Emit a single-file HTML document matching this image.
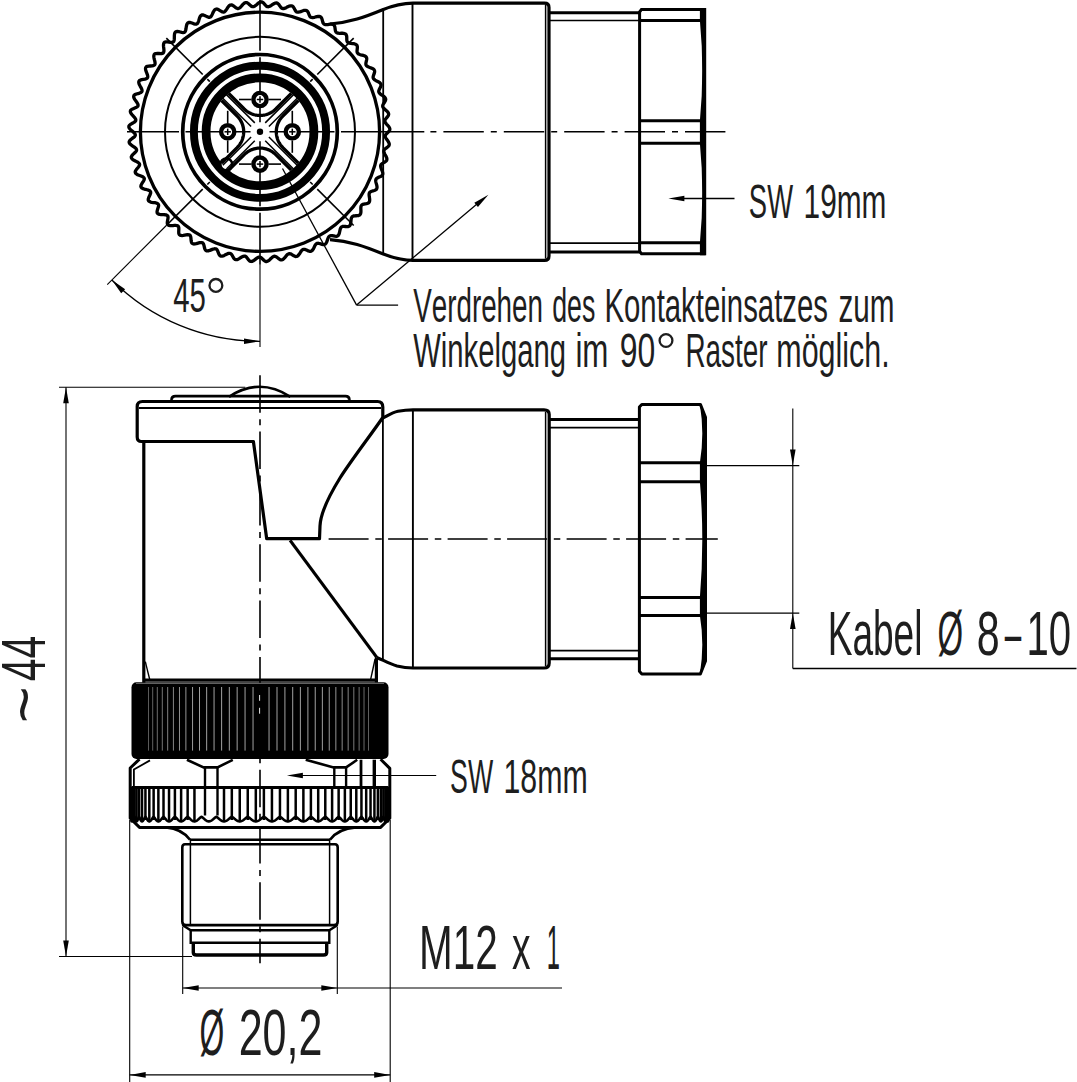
<!DOCTYPE html>
<html><head><meta charset="utf-8"><style>
html,body{margin:0;padding:0;background:#fff;}
svg{display:block;}
text{font-family:"Liberation Sans",sans-serif;fill:#1e1e1e;stroke:none;font-kerning:none;}
</style></head><body>
<svg width="1077" height="1082" viewBox="0 0 1077 1082">
<rect width="1077" height="1082" fill="#fff"/>
<g fill="none" stroke="#000" stroke-linecap="butt">
<path d="M388.52,131.8 L387.51,132.74 L386.52,133.68 L385.73,134.6 L385.29,135.51 L385.26,136.44 L385.51,137.38 L386,138.34 L386.65,139.32 L387.38,140.31 L388.1,141.31 L388.7,142.31 L389.12,143.31 L389.28,144.29 L389.12,145.24 L388.54,146.15 L387.62,147 L386.51,147.82 L385.41,148.63 L384.51,149.45 L383.97,150.31 L383.83,151.22 L383.97,152.19 L384.34,153.2 L384.87,154.24 L385.48,155.31 L386.07,156.39 L386.56,157.46 L386.85,158.5 L386.89,159.49 L386.62,160.42 L385.94,161.25 L384.92,161.99 L383.72,162.67 L382.54,163.34 L381.55,164.05 L380.91,164.84 L380.66,165.73 L380.69,166.71 L380.93,167.75 L381.34,168.85 L381.82,169.99 L382.28,171.13 L382.63,172.25 L382.8,173.32 L382.72,174.31 L382.35,175.19 L381.57,175.94 L380.48,176.55 L379.21,177.09 L377.95,177.61 L376.89,178.2 L376.16,178.91 L375.8,179.77 L375.71,180.74 L375.83,181.8 L376.11,182.94 L376.45,184.13 L376.77,185.32 L376.99,186.47 L377.03,187.55 L376.84,188.52 L376.36,189.36 L375.5,190.01 L374.34,190.49 L373.01,190.87 L371.7,191.24 L370.58,191.7 L369.77,192.32 L369.32,193.13 L369.11,194.08 L369.11,195.15 L369.24,196.32 L369.44,197.53 L369.62,198.75 L369.7,199.92 L369.61,201 L369.31,201.94 L368.73,202.72 L367.81,203.26 L366.59,203.6 L365.23,203.82 L363.89,204.04 L362.72,204.36 L361.84,204.87 L361.3,205.63 L360.98,206.55 L360.85,207.61 L360.84,208.79 L360.9,210.02 L360.93,211.25 L360.87,212.42 L360.66,213.48 L360.24,214.38 L359.58,215.08 L358.6,215.51 L357.35,215.7 L355.98,215.76 L354.62,215.82 L353.42,216 L352.48,216.41 L351.85,217.09 L351.43,217.97 L351.17,219.01 L351.03,220.17 L350.94,221.4 L350.83,222.63 L350.63,223.78 L350.29,224.81 L349.77,225.66 L349.03,226.28 L348.01,226.58 L346.75,226.62 L345.37,226.52 L344.02,226.42 L342.8,226.45 L341.83,226.75 L341.12,227.35 L340.6,228.18 L340.22,229.18 L339.94,230.32 L339.7,231.53 L339.45,232.73 L339.12,233.86 L338.66,234.84 L338.04,235.61 L337.24,236.14 L336.18,236.32 L334.92,236.22 L333.57,235.95 L332.24,235.69 L331.03,235.58 L330.02,235.76 L329.25,236.28 L328.63,237.03 L328.14,237.98 L327.73,239.08 L327.35,240.25 L326.95,241.42 L326.49,242.5 L325.92,243.42 L325.22,244.12 L324.35,244.54 L323.28,244.6 L322.05,244.35 L320.74,243.92 L319.44,243.5 L318.25,243.25 L317.24,243.31 L316.41,243.73 L315.71,244.41 L315.1,245.3 L314.56,246.34 L314.05,247.46 L313.52,248.57 L312.93,249.59 L312.26,250.43 L311.47,251.04 L310.57,251.36 L309.5,251.29 L308.3,250.9 L307.05,250.32 L305.81,249.75 L304.66,249.36 L303.65,249.3 L302.77,249.62 L302,250.21 L301.29,251.02 L300.63,251.99 L299.99,253.04 L299.33,254.08 L298.63,255.02 L297.86,255.78 L297.01,256.29 L296.07,256.51 L295.02,256.31 L293.88,255.77 L292.7,255.05 L291.54,254.34 L290.44,253.82 L289.44,253.64 L288.54,253.85 L287.7,254.34 L286.9,255.06 L286.13,255.95 L285.37,256.92 L284.59,257.87 L283.78,258.72 L282.93,259.38 L282.03,259.8 L281.07,259.9 L280.04,259.58 L278.98,258.91 L277.89,258.06 L276.83,257.21 L275.8,256.56 L274.82,256.26 L273.9,256.37 L273.01,256.76 L272.13,257.38 L271.27,258.17 L270.39,259.04 L269.51,259.9 L268.6,260.65 L267.68,261.2 L266.73,261.5 L265.77,261.49 L264.79,261.05 L263.81,260.26 L262.83,259.29 L261.88,258.32 L260.93,257.56 L260,257.14 L259.07,257.14 L258.14,257.42 L257.2,257.93 L256.24,258.62 L255.27,259.39 L254.29,260.16 L253.3,260.81 L252.32,261.28 L251.34,261.48 L250.38,261.36 L249.46,260.8 L248.58,259.88 L247.73,258.76 L246.9,257.65 L246.06,256.74 L245.18,256.2 L244.26,256.08 L243.3,256.26 L242.3,256.69 L241.27,257.29 L240.21,257.99 L239.13,258.67 L238.07,259.24 L237.03,259.61 L236.03,259.71 L235.1,259.47 L234.25,258.78 L233.49,257.72 L232.79,256.46 L232.11,255.21 L231.39,254.17 L230.59,253.5 L229.69,253.28 L228.71,253.36 L227.66,253.69 L226.55,254.21 L225.41,254.81 L224.25,255.4 L223.12,255.87 L222.03,256.13 L221.02,256.13 L220.12,255.78 L219.37,254.97 L218.76,253.79 L218.23,252.41 L217.71,251.04 L217.13,249.88 L216.43,249.11 L215.56,248.78 L214.57,248.76 L213.48,248.99 L212.31,249.4 L211.08,249.9 L209.85,250.38 L208.65,250.75 L207.54,250.9 L206.53,250.79 L205.68,250.33 L205.04,249.42 L204.58,248.14 L204.24,246.66 L203.91,245.19 L203.49,243.94 L202.89,243.08 L202.06,242.65 L201.08,242.52 L199.96,242.64 L198.73,242.94 L197.44,243.32 L196.14,243.69 L194.89,243.94 L193.75,243.98 L192.76,243.75 L191.96,243.2 L191.45,242.19 L191.17,240.83 L191.02,239.29 L190.89,237.75 L190.64,236.44 L190.16,235.49 L189.39,234.97 L188.43,234.74 L187.28,234.75 L186.01,234.92 L184.66,235.18 L183.31,235.41 L182.02,235.53 L180.87,235.45 L179.91,235.12 L179.18,234.47 L178.8,233.4 L178.71,231.99 L178.77,230.4 L178.85,228.83 L178.78,227.47 L178.42,226.46 L177.72,225.85 L176.78,225.52 L175.63,225.41 L174.33,225.45 L172.93,225.57 L171.54,225.66 L170.23,225.65 L169.09,225.45 L168.16,225.01 L167.52,224.28 L167.28,223.15 L167.38,221.72 L167.66,220.12 L167.95,218.55 L168.06,217.17 L167.83,216.12 L167.21,215.43 L166.31,214.99 L165.17,214.76 L163.85,214.67 L162.43,214.63 L161.01,214.58 L159.7,214.43 L158.57,214.1 L157.7,213.56 L157.15,212.76 L157.06,211.6 L157.34,210.17 L157.84,208.6 L158.34,207.05 L158.63,205.68 L158.54,204.6 L158.01,203.84 L157.15,203.31 L156.03,202.95 L154.72,202.71 L153.29,202.53 L151.87,202.32 L150.56,202.03 L149.47,201.58 L148.66,200.94 L148.22,200.07 L148.28,198.91 L148.75,197.51 L149.45,195.99 L150.16,194.5 L150.63,193.16 L150.68,192.07 L150.24,191.26 L149.44,190.63 L148.36,190.15 L147.06,189.77 L145.65,189.42 L144.25,189.06 L142.97,188.62 L141.93,188.05 L141.2,187.32 L140.86,186.4 L141.06,185.25 L141.72,183.9 L142.62,182.47 L143.51,181.06 L144.16,179.78 L144.34,178.71 L144,177.85 L143.28,177.13 L142.25,176.53 L141,176 L139.62,175.5 L138.25,174.98 L137.03,174.39 L136.05,173.71 L135.41,172.9 L135.18,171.95 L135.53,170.82 L136.35,169.56 L137.43,168.24 L138.51,166.94 L139.31,165.74 L139.63,164.69 L139.39,163.8 L138.76,163.01 L137.8,162.29 L136.6,161.62 L135.28,160.96 L133.98,160.28 L132.82,159.56 L131.92,158.76 L131.38,157.88 L131.27,156.91 L131.76,155.83 L132.73,154.67 L133.98,153.49 L135.21,152.32 L136.15,151.23 L136.6,150.22 L136.47,149.31 L135.93,148.45 L135.05,147.62 L133.94,146.82 L132.7,146.01 L131.48,145.18 L130.41,144.32 L129.61,143.42 L129.17,142.49 L129.18,141.51 L129.8,140.5 L130.91,139.46 L132.29,138.43 L133.65,137.42 L134.73,136.44 L135.29,135.5 L135.27,134.57 L134.83,133.65 L134.06,132.73 L133.05,131.8 L131.91,130.85 L130.79,129.89 L129.83,128.91 L129.15,127.92 L128.82,126.94 L128.95,125.97 L129.68,125.03 L130.91,124.14 L132.4,123.28 L133.88,122.44 L135.06,121.59 L135.73,120.72 L135.81,119.8 L135.49,118.84 L134.83,117.83 L133.94,116.78 L132.93,115.71 L131.93,114.62 L131.1,113.53 L130.54,112.47 L130.33,111.46 L130.57,110.51 L131.41,109.67 L132.73,108.93 L134.31,108.25 L135.87,107.59 L137.13,106.89 L137.9,106.1 L138.09,105.19 L137.89,104.2 L137.36,103.12 L136.6,101.98 L135.73,100.79 L134.88,99.6 L134.19,98.42 L133.76,97.31 L133.68,96.28 L134.03,95.37 L134.96,94.63 L136.35,94.04 L137.99,93.55 L139.6,93.07 L140.93,92.53 L141.78,91.83 L142.08,90.96 L141.99,89.95 L141.6,88.82 L141,87.6 L140.28,86.32 L139.6,85.03 L139.06,83.79 L138.77,82.64 L138.82,81.61 L139.28,80.74 L140.28,80.12 L141.72,79.7 L143.38,79.4 L145.02,79.1 L146.4,78.71 L147.31,78.12 L147.71,77.29 L147.75,76.27 L147.51,75.11 L147.06,73.83 L146.52,72.49 L146.01,71.14 L145.63,69.85 L145.5,68.67 L145.67,67.66 L146.23,66.86 L147.29,66.35 L148.75,66.09 L150.42,65.98 L152.06,65.87 L153.45,65.64 L154.42,65.15 L154.92,64.37 L155.09,63.37 L154.99,62.2 L154.72,60.89 L154.35,59.5 L154.02,58.11 L153.82,56.8 L153.83,55.62 L154.13,54.64 L154.78,53.91 L155.88,53.53 L157.34,53.43 L158.99,53.5 L160.61,53.57 L162.01,53.48 L163.02,53.11 L163.6,52.39 L163.89,51.43 L163.95,50.26 L163.85,48.93 L163.67,47.53 L163.52,46.13 L163.49,44.82 L163.66,43.66 L164.08,42.73 L164.8,42.08 L165.93,41.82 L167.38,41.88 L168.98,42.12 L170.56,42.36 L171.93,42.42 L172.97,42.15 L173.64,41.51 L174.05,40.6 L174.26,39.46 L174.33,38.15 L174.34,36.76 L174.37,35.37 L174.51,34.08 L174.83,32.97 L175.36,32.11 L176.16,31.54 L177.3,31.41 L178.71,31.61 L180.25,32.01 L181.76,32.4 L183.1,32.6 L184.15,32.45 L184.89,31.89 L185.41,31.04 L185.77,29.95 L186.01,28.68 L186.2,27.32 L186.42,25.98 L186.73,24.74 L187.18,23.69 L187.82,22.9 L188.67,22.44 L189.81,22.42 L191.17,22.77 L192.63,23.31 L194.06,23.84 L195.35,24.17 L196.41,24.13 L197.21,23.66 L197.83,22.88 L198.32,21.86 L198.73,20.66 L199.1,19.37 L199.49,18.09 L199.96,16.92 L200.54,15.95 L201.27,15.26 L202.17,14.9 L203.29,14.99 L204.58,15.46 L205.95,16.13 L207.29,16.8 L208.52,17.24 L209.57,17.31 L210.41,16.93 L211.13,16.25 L211.75,15.32 L212.31,14.2 L212.84,13 L213.39,11.8 L214.01,10.73 L214.71,9.87 L215.52,9.27 L216.45,9.02 L217.55,9.23 L218.76,9.81 L220.02,10.59 L221.26,11.36 L222.42,11.91 L223.44,12.08 L224.33,11.81 L225.13,11.23 L225.86,10.4 L226.55,9.39 L227.23,8.3 L227.93,7.22 L228.68,6.26 L229.48,5.51 L230.36,5.03 L231.31,4.88 L232.37,5.2 L233.49,5.88 L234.64,6.75 L235.78,7.62 L236.85,8.27 L237.85,8.53 L238.76,8.37 L239.62,7.9 L240.45,7.19 L241.27,6.31 L242.08,5.34 L242.91,4.39 L243.76,3.56 L244.65,2.93 L245.58,2.57 L246.54,2.54 L247.55,2.95 L248.58,3.72 L249.62,4.68 L250.63,5.62 L251.62,6.35 L252.58,6.71 L253.5,6.65 L254.42,6.31 L255.33,5.73 L256.24,4.98 L257.16,4.16 L258.1,3.35 L259.04,2.66 L260,2.17 L260.96,1.93 L261.92,2 L262.87,2.49 L263.81,3.34 L264.72,4.37 L265.62,5.39 L266.52,6.21 L267.43,6.68 L268.35,6.73 L269.3,6.51 L270.27,6.05 L271.27,5.43 L272.28,4.73 L273.3,4.04 L274.32,3.46 L275.33,3.08 L276.32,2.95 L277.26,3.13 L278.15,3.74 L278.98,4.69 L279.76,5.82 L280.53,6.94 L281.33,7.86 L282.17,8.43 L283.09,8.6 L284.05,8.49 L285.07,8.15 L286.13,7.65 L287.22,7.07 L288.32,6.51 L289.4,6.06 L290.45,5.8 L291.44,5.79 L292.36,6.08 L293.17,6.79 L293.88,7.83 L294.52,9.04 L295.16,10.25 L295.84,11.26 L296.61,11.92 L297.49,12.2 L298.47,12.2 L299.52,11.98 L300.63,11.61 L301.78,11.17 L302.94,10.74 L304.07,10.42 L305.14,10.28 L306.12,10.39 L307,10.79 L307.72,11.59 L308.3,12.7 L308.8,13.99 L309.29,15.26 L309.84,16.34 L310.53,17.09 L311.38,17.47 L312.34,17.59 L313.41,17.5 L314.56,17.26 L315.76,16.95 L316.95,16.67 L318.11,16.48 L319.19,16.48 L320.16,16.7 L320.98,17.2 L321.6,18.07 L322.05,19.25 L322.39,20.59 L322.72,21.91 L323.15,23.05 L323.74,23.87 L324.54,24.35 L325.49,24.58 L326.56,24.62 L327.73,24.52 L328.95,24.36 L330.17,24.21 L331.34,24.17 L332.42,24.29 L333.35,24.62 L334.11,25.21 L334.62,26.16 L334.92,27.38 L335.11,28.75 L335.28,30.1 L335.57,31.28 L336.06,32.17 L336.79,32.74 L337.71,33.08 L338.77,33.24 L339.94,33.28 L341.17,33.26 L342.4,33.27 L343.57,33.36 L344.62,33.61 L345.51,34.05 L346.2,34.73 L346.59,35.73 L346.75,36.98 L346.77,38.35 L346.78,39.71 L346.93,40.92 L347.31,41.86 L347.97,42.51 L348.84,42.96 L349.87,43.25 L351.03,43.43 L352.26,43.56 L353.48,43.7 L354.63,43.93 L355.64,44.3 L356.47,44.85 L357.07,45.6 L357.35,46.64 L357.35,47.9 L357.21,49.27 L357.06,50.63 L357.06,51.84 L357.33,52.82 L357.92,53.55 L358.72,54.09 L359.71,54.5 L360.84,54.81 L362.05,55.09 L363.24,55.38 L364.36,55.74 L365.32,56.23 L366.08,56.87 L366.59,57.69 L366.74,58.75 L366.59,60 L366.29,61.35 L365.98,62.68 L365.84,63.88 L365.99,64.89 L366.48,65.68 L367.22,66.31 L368.16,66.84 L369.24,67.28 L370.4,67.69 L371.56,68.13 L372.62,68.62 L373.52,69.22 L374.2,69.94 L374.6,70.82 L374.63,71.89 L374.34,73.11 L373.88,74.41 L373.42,75.7 L373.13,76.88 L373.16,77.89 L373.56,78.73 L374.21,79.46 L375.08,80.09 L376.11,80.66 L377.21,81.2 L378.31,81.77 L379.3,82.38 L380.13,83.08 L380.71,83.88 L381.01,84.8 L380.91,85.87 L380.48,87.05 L379.86,88.28 L379.26,89.5 L378.83,90.64 L378.74,91.66 L379.04,92.54 L379.6,93.33 L380.39,94.06 L381.34,94.75 L382.37,95.42 L383.39,96.11 L384.31,96.84 L385.04,97.63 L385.53,98.5 L385.72,99.44 L385.49,100.49 L384.92,101.61 L384.17,102.77 L383.42,103.9 L382.87,104.99 L382.66,105.98 L382.84,106.89 L383.31,107.75 L384.01,108.56 L384.87,109.36 L385.82,110.15 L386.75,110.95 L387.57,111.79 L388.21,112.66 L388.59,113.58 L388.67,114.54 L388.31,115.55 L387.62,116.6 L386.73,117.66 L385.85,118.7 L385.18,119.71 L384.85,120.67 L384.93,121.6 L385.29,122.5 L385.89,123.39 L386.65,124.28 L387.49,125.18 L388.32,126.09 L389.04,127.02 L389.57,127.96 L389.85,128.91 L389.8,129.88 L389.33,130.84 L388.52,131.8 Z" stroke-width="3.3" stroke-linejoin="round"/>
<circle cx="260" cy="131.8" r="119.6" stroke-width="3.3" />
<circle cx="260" cy="131.8" r="95" stroke-width="2.0" />
<circle cx="260" cy="131.8" r="77.3" stroke-width="3.7" />
<circle cx="260" cy="131.8" r="66.1" stroke-width="7.9" />
<circle cx="260" cy="131.8" r="53.9" stroke-width="8.8" />
<line x1="127" y1="131.8" x2="179" y2="131.8" stroke-width="1.6" />
<line x1="185.5" y1="131.8" x2="250.5" y2="131.8" stroke-width="1.6" />
<line x1="269.5" y1="131.8" x2="334.5" y2="131.8" stroke-width="1.6" />
<line x1="341" y1="131.8" x2="424.3" y2="131.8" stroke-width="1.6" />
<line x1="430.4" y1="131.8" x2="726" y2="131.8" stroke-width="1.6" stroke-dasharray="6 7 40.4 7"/>
<line x1="260" y1="0" x2="260" y2="50.8" stroke-width="1.6" />
<line x1="260" y1="57.3" x2="260" y2="122.3" stroke-width="1.6" />
<line x1="260" y1="141.3" x2="260" y2="206.3" stroke-width="1.6" />
<line x1="260" y1="212.8" x2="260" y2="264.8" stroke-width="1.6" />
<line x1="260" y1="264.8" x2="260" y2="347" stroke-width="1.1" />
<line x1="317.28" y1="189.08" x2="353.69" y2="225.49" stroke-width="1.6" />
<line x1="310.2" y1="182" x2="312.68" y2="184.48" stroke-width="1.6" />
<line x1="202.72" y1="189.08" x2="166.31" y2="225.49" stroke-width="1.6" />
<line x1="166.31" y1="225.49" x2="107.26" y2="284.54" stroke-width="1.1" />
<line x1="209.8" y1="182" x2="207.32" y2="184.48" stroke-width="1.6" />
<line x1="202.72" y1="74.52" x2="166.31" y2="38.11" stroke-width="1.6" />
<line x1="209.8" y1="81.6" x2="207.32" y2="79.12" stroke-width="1.6" />
<line x1="317.28" y1="74.52" x2="353.69" y2="38.11" stroke-width="1.6" />
<line x1="310.2" y1="81.6" x2="312.68" y2="79.12" stroke-width="1.6" />
<circle cx="226.3" cy="164.4" r="5.9" stroke-width="2.5" fill="#fff"/>
<circle cx="260" cy="131.8" r="3.2" fill="#000" stroke="none"/>
<line x1="268.91" y1="137.03" x2="297.19" y2="165.32" stroke-width="1.5" />
<line x1="265.23" y1="140.71" x2="293.52" y2="168.99" stroke-width="1.5" />
<line x1="254.77" y1="140.71" x2="226.48" y2="168.99" stroke-width="1.5" />
<line x1="251.09" y1="137.03" x2="222.81" y2="165.32" stroke-width="1.5" />
<line x1="251.09" y1="126.57" x2="222.81" y2="98.28" stroke-width="1.5" />
<line x1="254.77" y1="122.89" x2="226.48" y2="94.61" stroke-width="1.5" />
<line x1="265.23" y1="122.89" x2="293.52" y2="94.61" stroke-width="1.5" />
<line x1="268.91" y1="126.57" x2="297.19" y2="98.28" stroke-width="1.5" />
<path d="M298.39,163.12 L282.83,147.57 L282.03,146.72 L281.27,145.83 L280.56,144.91 L279.9,143.95 L279.29,142.95 L278.73,141.92 L278.23,140.87 L277.78,139.79 L277.39,138.69 L277.06,137.57 L276.79,136.44 L276.57,135.29 L276.42,134.13 L276.33,132.97 L276.3,131.8 L276.33,130.63 L276.42,129.47 L276.57,128.31 L276.79,127.16 L277.06,126.03 L277.39,124.91 L277.78,123.81 L278.23,122.73 L278.73,121.68 L279.29,120.65 L279.9,119.65 L280.56,118.69 L281.27,117.77 L282.03,116.88 L282.83,116.03 L298.39,100.48" stroke-width="3.3" stroke-linejoin="round"/>
<path d="M228.68,170.19 L244.23,154.63 L245.08,153.83 L245.97,153.07 L246.89,152.36 L247.85,151.7 L248.85,151.09 L249.88,150.53 L250.93,150.03 L252.01,149.58 L253.11,149.19 L254.23,148.86 L255.36,148.59 L256.51,148.37 L257.67,148.22 L258.83,148.13 L260,148.1 L261.17,148.13 L262.33,148.22 L263.49,148.37 L264.64,148.59 L265.77,148.86 L266.89,149.19 L267.99,149.58 L269.07,150.03 L270.12,150.53 L271.15,151.09 L272.15,151.7 L273.11,152.36 L274.03,153.07 L274.92,153.83 L275.77,154.63 L291.32,170.19" stroke-width="3.3" stroke-linejoin="round"/>
<path d="M221.61,100.48 L237.17,116.03 L237.97,116.88 L238.73,117.77 L239.44,118.69 L240.1,119.65 L240.71,120.65 L241.27,121.68 L241.77,122.73 L242.22,123.81 L242.61,124.91 L242.94,126.03 L243.21,127.16 L243.43,128.31 L243.58,129.47 L243.67,130.63 L243.7,131.8 L243.67,132.97 L243.58,134.13 L243.43,135.29 L243.21,136.44 L242.94,137.57 L242.61,138.69 L242.22,139.79 L241.77,140.87 L241.27,141.92 L240.71,142.95 L240.1,143.95 L239.44,144.91 L238.73,145.83 L237.97,146.72 L237.17,147.57 L221.61,163.12" stroke-width="3.3" stroke-linejoin="round"/>
<path d="M291.32,93.41 L275.77,108.97 L274.92,109.77 L274.03,110.53 L273.11,111.24 L272.15,111.9 L271.15,112.51 L270.12,113.07 L269.07,113.57 L267.99,114.02 L266.89,114.41 L265.77,114.74 L264.64,115.01 L263.49,115.23 L262.33,115.38 L261.17,115.47 L260,115.5 L258.83,115.47 L257.67,115.38 L256.51,115.23 L255.36,115.01 L254.23,114.74 L253.11,114.41 L252.01,114.02 L250.93,113.57 L249.88,113.07 L248.85,112.51 L247.85,111.9 L246.89,111.24 L245.97,110.53 L245.08,109.77 L244.23,108.97 L228.68,93.41" stroke-width="3.3" stroke-linejoin="round"/>
<circle cx="292.3" cy="131.8" r="6.6" stroke-width="4.4" fill="#fff"/>
<line x1="292.3" y1="128.6" x2="292.3" y2="135" stroke-width="1.5" />
<line x1="289.1" y1="131.8" x2="295.5" y2="131.8" stroke-width="1.5" />
<line x1="292.3" y1="123.2" x2="292.3" y2="110.8" stroke-width="1.6" />
<line x1="292.3" y1="140.4" x2="292.3" y2="152.8" stroke-width="1.6" />
<circle cx="260" cy="164.1" r="6.6" stroke-width="4.4" fill="#fff"/>
<line x1="263.2" y1="164.1" x2="256.8" y2="164.1" stroke-width="1.5" />
<line x1="260" y1="160.9" x2="260" y2="167.3" stroke-width="1.5" />
<line x1="268.6" y1="164.1" x2="281" y2="164.1" stroke-width="1.6" />
<line x1="251.4" y1="164.1" x2="239" y2="164.1" stroke-width="1.6" />
<circle cx="227.7" cy="131.8" r="6.6" stroke-width="4.4" fill="#fff"/>
<line x1="227.7" y1="135" x2="227.7" y2="128.6" stroke-width="1.5" />
<line x1="230.9" y1="131.8" x2="224.5" y2="131.8" stroke-width="1.5" />
<line x1="227.7" y1="140.4" x2="227.7" y2="152.8" stroke-width="1.6" />
<line x1="227.7" y1="123.2" x2="227.7" y2="110.8" stroke-width="1.6" />
<circle cx="260" cy="99.5" r="6.6" stroke-width="4.4" fill="#fff"/>
<line x1="256.8" y1="99.5" x2="263.2" y2="99.5" stroke-width="1.5" />
<line x1="260" y1="102.7" x2="260" y2="96.3" stroke-width="1.5" />
<line x1="251.4" y1="99.5" x2="239" y2="99.5" stroke-width="1.6" />
<line x1="268.6" y1="99.5" x2="281" y2="99.5" stroke-width="1.6" />
<path d="M330,24 C350,22.5 365,17 382,10 C392,6 402,3.2 413,3.2 L544.5,3.2 Q549,3.2 549,7.5 L549,256 Q549,260.4 544.5,260.4 L413,260.4 C402,260.4 392,257.6 382,253.6 C365,246.6 350,241.1 330,239.6" stroke-width="3.2" fill="none"/>
<line x1="383.2" y1="8.5" x2="383.2" y2="255.1" stroke-width="1.8" />
<line x1="412.5" y1="3" x2="412.5" y2="260.6" stroke-width="1.9" />
<line x1="545.6" y1="5" x2="545.6" y2="258.6" stroke-width="1.5" />
<line x1="549" y1="12.7" x2="640" y2="12.7" stroke-width="3.0" />
<line x1="549" y1="20.5" x2="640" y2="20.5" stroke-width="1.6" />
<line x1="549" y1="243.1" x2="640" y2="243.1" stroke-width="1.6" />
<line x1="549" y1="251.9" x2="640" y2="251.9" stroke-width="3.0" />
<path d="M639.6,12 L641.5,9.4 L704,9.4 L704,253.8 L641.5,253.8 L639.6,251.2 Z" stroke-width="3.0" />
<line x1="639.6" y1="20.5" x2="701" y2="20.5" stroke-width="3.0" />
<line x1="639.6" y1="120.7" x2="701" y2="120.7" stroke-width="3.0" />
<line x1="639.6" y1="143.3" x2="701" y2="143.3" stroke-width="3.0" />
<line x1="639.6" y1="242.7" x2="701" y2="242.7" stroke-width="3.0" />
<path d="M699.9,7.9 L706.2,7.9 L706.2,255.3 L699.9,255.3 L699.9,242.7 Q704.7,193 699.9,143.3 L699.9,120.7 Q704.7,70.6 699.9,20.5 Z" fill="#000" stroke="none"/>
<line x1="680" y1="198.5" x2="734.5" y2="198.5" stroke-width="1.3" />
<path d="M668.4,198.5 L684.4,195.7 L684.4,201.3 Z" fill="#000" stroke="none"/>
<text transform="translate(748.86,217.6) scale(0.5713,1)" font-size="47.97"  >SW</text>
<text transform="translate(803.53,217.6) scale(0.6224,1)" font-size="47.97"  >19mm</text>
<line x1="356.6" y1="305.1" x2="398.1" y2="305.1" stroke-width="1.3" />
<line x1="356.6" y1="305.1" x2="282.5" y2="168.5" stroke-width="1.3" />
<line x1="356.6" y1="305.1" x2="480" y2="201.6" stroke-width="1.3" />
<path d="M488.4,194.7 L477.93,207.12 L474.34,202.83 Z" fill="#000" stroke="none"/>
<text transform="translate(413.18,321.9) scale(0.5761,1)" font-size="48.26"  >Verdrehen</text>
<text transform="translate(552.18,321.9) scale(0.5538,1)" font-size="48.26"  >des</text>
<text transform="translate(604.39,321.9) scale(0.6086,1)" font-size="48.26"  >Kontakteinsatzes</text>
<text transform="translate(838.4,321.9) scale(0.6149,1)" font-size="48.26"  >zum</text>
<text transform="translate(413.17,366.8) scale(0.6101,1)" font-size="47.97"  >Winkelgang</text>
<text transform="translate(575.4,366.8) scale(0.6532,1)" font-size="47.97"  >im</text>
<text transform="translate(619.7,366.8) scale(0.6663,1)" font-size="47.97"  >90</text>
<circle cx="666" cy="340.5" r="6.4" stroke="#1e1e1e" stroke-width="2.3"/>
<text transform="translate(685.41,366.8) scale(0.5815,1)" font-size="47.97"  >Raster</text>
<text transform="translate(776.28,366.8) scale(0.6349,1)" font-size="47.97"  >möglich.</text>
<path d="M111.86,279.94 A209.5,209.5 0 0 0 260,341.3" stroke-width="1.3" />
<path d="M111.86,279.94 L125.15,289.27 L121.19,293.23 Z" fill="#000" stroke="none"/>
<path d="M260,341.3 L244,344.1 L244,338.5 Z" fill="#000" stroke="none"/>
<text transform="translate(173.13,311.6) scale(0.6168,1)" font-size="47.68"  >45</text>
<circle cx="215.9" cy="285.4" r="6.4" stroke="#1e1e1e" stroke-width="2.3"/>
<path d="M229,396.8 Q259.7,376.8 290.4,396.8" stroke-width="2.6" />
<path d="M172.5,401 Q171.6,401 171.6,399.5 Q171.6,396.2 175.5,396.2 L345.5,396.2 Q349.3,396.2 349.3,399.5 Q349.3,401 348.4,401" stroke-width="2.8" />
<path d="M143.8,441.5 L141.5,441.5 Q137.2,441.5 137.2,437 L137.2,406.5 Q137.2,401.5 142.5,401.5 L377.5,401.5 Q382.8,401.5 382.8,407 L382.8,417.5 C370,436 350,462 340,478 C327,499 320.5,514 320,526 L319.5,538.7 L266.7,538.7 L253.4,441.5 L143.8,441.5" stroke-width="3.2" stroke-linejoin="round"/>
<line x1="139" y1="408" x2="381" y2="408" stroke-width="1.9" />
<line x1="143.8" y1="441.5" x2="143.8" y2="682.8" stroke-width="3.2" />
<line x1="145.3" y1="661.6" x2="149.7" y2="679.4" stroke-width="1.4" />
<line x1="143.8" y1="680.2" x2="376.8" y2="680.2" stroke-width="3.2" />
<line x1="290.1" y1="540.4" x2="376.8" y2="657.4" stroke-width="3.2" />
<line x1="376.4" y1="657.4" x2="376.4" y2="682.5" stroke-width="3.2" />
<line x1="375.1" y1="659" x2="370.7" y2="679.1" stroke-width="1.4" />
<line x1="382.9" y1="417.5" x2="382.9" y2="659" stroke-width="1.8" />
<path d="M382.3,418.4 C388,415.5 392,412.5 398,411.3 C403,410.3 407,409.8 413,409.8 L544,409.8 Q549.2,409.8 549.2,414.5 L549.2,663 Q549.2,668 544,668 L413,668 C407,668 403,667.5 397,666 C390,664 383,660 376.8,657.4" stroke-width="3.2" />
<line x1="412.9" y1="409.8" x2="412.9" y2="668" stroke-width="1.9" />
<line x1="545.6" y1="412" x2="545.6" y2="666" stroke-width="1.5" />
<line x1="549" y1="419.4" x2="639" y2="419.4" stroke-width="3.0" />
<line x1="549" y1="427.6" x2="639" y2="427.6" stroke-width="1.6" />
<line x1="549" y1="650.6" x2="639" y2="650.6" stroke-width="1.6" />
<line x1="549" y1="658.8" x2="639" y2="658.8" stroke-width="3.0" />
<path d="M639.4,407 L641.8,404.4 L700.4,404.4 L705.5,417.2 L705.5,661 L700.4,673.9 L641.8,673.9 L639.4,671.3 Z" stroke-width="3.0" stroke-linejoin="round"/>
<line x1="639.4" y1="462.7" x2="701" y2="462.7" stroke-width="3.0" />
<line x1="639.4" y1="481.8" x2="701" y2="481.8" stroke-width="3.0" />
<line x1="639.4" y1="597.5" x2="701" y2="597.5" stroke-width="3.0" />
<line x1="639.4" y1="615.5" x2="701" y2="615.5" stroke-width="3.0" />
<path d="M700.4,404.4 L706.2,416.9 L706.2,661.4 L700.4,673.9 L699.9,673.9 Q704.7,644.7 699.9,615.5 L699.9,597.5 Q704.7,539.65 699.9,481.8 L699.9,462.7 Q704.7,433.55 699.9,404.4 Z" fill="#000" stroke="none"/>
<line x1="328.6" y1="539" x2="717.8" y2="539" stroke-width="1.6" stroke-dasharray="40 6.7 6.5 6.3"/>
<line x1="260" y1="375.2" x2="260" y2="963.3" stroke-width="1.6" stroke-dasharray="37.5 6.5 6 6.35"/>
<line x1="703" y1="465.6" x2="799.3" y2="465.6" stroke-width="1.1" />
<line x1="703" y1="613.1" x2="799.3" y2="613.1" stroke-width="1.1" />
<line x1="792.8" y1="408.4" x2="792.8" y2="668.5" stroke-width="1.1" />
<line x1="792.8" y1="668.5" x2="1076.5" y2="668.5" stroke-width="1.3" />
<path d="M792.8,465.6 L790,449.6 L795.6,449.6 Z" fill="#000" stroke="none"/>
<path d="M792.8,613.1 L795.6,629.1 L790,629.1 Z" fill="#000" stroke="none"/>
<text transform="translate(827.77,654.8) scale(0.5810,1)" font-size="63.66"  >Kabel</text>
<text transform="translate(937.46,654.8) scale(0.5181,1)" font-size="63.66"  >Ø</text>
<text transform="translate(976.81,654.8) scale(0.6461,1)" font-size="63.66"  >8</text>
<text transform="translate(1004.8,654.8) scale(0.4664,1)" font-size="63.66"  >–</text>
<text transform="translate(1026.54,654.8) scale(0.6301,1)" font-size="63.66"  >10</text>
<line x1="59" y1="387.3" x2="245.3" y2="387.3" stroke-width="1.1" />
<line x1="59" y1="956.5" x2="192" y2="956.5" stroke-width="1.1" />
<line x1="66" y1="387.3" x2="66" y2="956.5" stroke-width="1.1" />
<path d="M66,387.3 L68.8,403.3 L63.2,403.3 Z" fill="#000" stroke="none"/>
<path d="M66,956.5 L63.2,940.5 L68.8,940.5 Z" fill="#000" stroke="none"/>
<text transform="translate(44.6,723.12) rotate(-90) scale(0.9899,1)" font-size="63.37">~</text>
<text transform="translate(44.6,681.14) rotate(-90) scale(0.6445,1)" font-size="63.37">44</text>
<rect x="131.5" y="682.3" width="257" height="76.6" rx="5" fill="#000" stroke="none"/>
<line x1="148.51" y1="687" x2="148.51" y2="750.6" stroke="#fff" stroke-width="0.8" stroke-opacity="0.45"/>
<line x1="152.7" y1="687" x2="152.7" y2="750.6" stroke="#fff" stroke-width="0.8" stroke-opacity="0.49"/>
<line x1="157.3" y1="687" x2="157.3" y2="750.6" stroke="#fff" stroke-width="0.8" stroke-opacity="0.54"/>
<line x1="162.3" y1="687" x2="162.3" y2="750.6" stroke="#fff" stroke-width="0.8" stroke-opacity="0.58"/>
<line x1="167.68" y1="687" x2="167.68" y2="750.6" stroke="#fff" stroke-width="0.8" stroke-opacity="0.63"/>
<line x1="173.42" y1="687" x2="173.42" y2="750.6" stroke="#fff" stroke-width="0.8" stroke-opacity="0.66"/>
<line x1="179.49" y1="687" x2="179.49" y2="750.6" stroke="#fff" stroke-width="0.8" stroke-opacity="0.7"/>
<line x1="185.88" y1="687" x2="185.88" y2="750.6" stroke="#fff" stroke-width="0.8" stroke-opacity="0.73"/>
<line x1="192.56" y1="687" x2="192.56" y2="750.6" stroke="#fff" stroke-width="0.8" stroke-opacity="0.77"/>
<line x1="199.5" y1="687" x2="199.5" y2="750.6" stroke="#fff" stroke-width="0.8" stroke-opacity="0.79"/>
<line x1="206.67" y1="687" x2="206.67" y2="750.6" stroke="#fff" stroke-width="0.8" stroke-opacity="0.8"/>
<line x1="214.05" y1="687" x2="214.05" y2="750.6" stroke="#fff" stroke-width="0.8" stroke-opacity="0.8"/>
<line x1="221.61" y1="687" x2="221.61" y2="750.6" stroke="#fff" stroke-width="0.8" stroke-opacity="0.8"/>
<line x1="229.32" y1="687" x2="229.32" y2="750.6" stroke="#fff" stroke-width="0.8" stroke-opacity="0.8"/>
<line x1="237.15" y1="687" x2="237.15" y2="750.6" stroke="#fff" stroke-width="0.8" stroke-opacity="0.8"/>
<line x1="245.06" y1="687" x2="245.06" y2="750.6" stroke="#fff" stroke-width="0.8" stroke-opacity="0.8"/>
<line x1="253.04" y1="687" x2="253.04" y2="750.6" stroke="#fff" stroke-width="0.8" stroke-opacity="0.8"/>
<line x1="269.04" y1="687" x2="269.04" y2="750.6" stroke="#fff" stroke-width="0.8" stroke-opacity="0.8"/>
<line x1="277.01" y1="687" x2="277.01" y2="750.6" stroke="#fff" stroke-width="0.8" stroke-opacity="0.8"/>
<line x1="284.91" y1="687" x2="284.91" y2="750.6" stroke="#fff" stroke-width="0.8" stroke-opacity="0.8"/>
<line x1="292.71" y1="687" x2="292.71" y2="750.6" stroke="#fff" stroke-width="0.8" stroke-opacity="0.8"/>
<line x1="300.38" y1="687" x2="300.38" y2="750.6" stroke="#fff" stroke-width="0.8" stroke-opacity="0.8"/>
<line x1="307.9" y1="687" x2="307.9" y2="750.6" stroke="#fff" stroke-width="0.8" stroke-opacity="0.8"/>
<line x1="315.24" y1="687" x2="315.24" y2="750.6" stroke="#fff" stroke-width="0.8" stroke-opacity="0.8"/>
<line x1="322.36" y1="687" x2="322.36" y2="750.6" stroke="#fff" stroke-width="0.8" stroke-opacity="0.79"/>
<line x1="329.24" y1="687" x2="329.24" y2="750.6" stroke="#fff" stroke-width="0.8" stroke-opacity="0.76"/>
<line x1="335.85" y1="687" x2="335.85" y2="750.6" stroke="#fff" stroke-width="0.8" stroke-opacity="0.73"/>
<line x1="342.16" y1="687" x2="342.16" y2="750.6" stroke="#fff" stroke-width="0.8" stroke-opacity="0.69"/>
<line x1="348.16" y1="687" x2="348.16" y2="750.6" stroke="#fff" stroke-width="0.8" stroke-opacity="0.66"/>
<line x1="353.82" y1="687" x2="353.82" y2="750.6" stroke="#fff" stroke-width="0.8" stroke-opacity="0.62"/>
<line x1="359.11" y1="687" x2="359.11" y2="750.6" stroke="#fff" stroke-width="0.8" stroke-opacity="0.57"/>
<line x1="364.02" y1="687" x2="364.02" y2="750.6" stroke="#fff" stroke-width="0.8" stroke-opacity="0.53"/>
<line x1="368.52" y1="687" x2="368.52" y2="750.6" stroke="#fff" stroke-width="0.8" stroke-opacity="0.48"/>
<line x1="136" y1="683.4" x2="384" y2="683.4" stroke="#888" stroke-width="0.8"/>
<line x1="259.6" y1="695" x2="259.6" y2="700.8" stroke="#fff" stroke-width="0.9"/>
<line x1="259.6" y1="707.8" x2="259.6" y2="713.7" stroke="#fff" stroke-width="0.9"/>
<path d="M139.5,759.2 L130.2,768 L130.2,818.2 L139.5,827.4 L380.6,827.4 L389.8,818.2 L389.8,768.4 L380.6,759.2" stroke-width="3.0" stroke-linejoin="round"/>
<path d="M133.9,787.6 L133.9,769.5 L150,760.4" stroke-width="1.8" />
<path d="M186.9,759.8 L203.6,767.4 L217.5,767.4 L232.8,759.8" stroke-width="2.6" />
<path d="M305.7,759.8 L333.6,767.4 L346.1,767.4 L357.2,759.8" stroke-width="2.6" />
<line x1="205" y1="767.4" x2="205" y2="815.5" stroke-width="2.4" />
<line x1="217.5" y1="767.4" x2="217.5" y2="815.5" stroke-width="2.4" />
<line x1="334.3" y1="767.4" x2="334.3" y2="787.6" stroke-width="2.4" />
<line x1="346.1" y1="767.4" x2="346.1" y2="787.6" stroke-width="2.4" />
<line x1="361" y1="759.7" x2="361" y2="787.6" stroke-width="2.8" />
<line x1="374.3" y1="759.7" x2="374.3" y2="787.6" stroke-width="3.4" />
<line x1="131.5" y1="787.6" x2="388.5" y2="787.6" stroke-width="3.0" />
<line x1="134.56" y1="787.6" x2="134.56" y2="820" stroke-width="2.5"/>
<line x1="136.56" y1="787.6" x2="136.56" y2="820" stroke-width="2.5"/>
<line x1="139.04" y1="787.6" x2="139.04" y2="820" stroke-width="2.5"/>
<line x1="142.01" y1="787.6" x2="142.01" y2="820" stroke-width="2.5"/>
<line x1="145.43" y1="787.6" x2="145.43" y2="820" stroke-width="2.5"/>
<line x1="149.31" y1="787.6" x2="149.31" y2="820" stroke-width="2.5"/>
<line x1="153.63" y1="787.6" x2="153.63" y2="820" stroke-width="2.5"/>
<line x1="158.37" y1="787.6" x2="158.37" y2="820" stroke-width="2.5"/>
<line x1="163.51" y1="787.6" x2="163.51" y2="820" stroke-width="2.5"/>
<line x1="169.03" y1="787.6" x2="169.03" y2="820" stroke-width="2.5"/>
<line x1="174.9" y1="787.6" x2="174.9" y2="820" stroke-width="2.5"/>
<line x1="181.12" y1="787.6" x2="181.12" y2="820" stroke-width="2.5"/>
<line x1="187.64" y1="787.6" x2="187.64" y2="820" stroke-width="2.5"/>
<line x1="194.45" y1="787.6" x2="194.45" y2="820" stroke-width="2.5"/>
<line x1="224" y1="787.6" x2="224" y2="820" stroke-width="2.5"/>
<line x1="231.82" y1="787.6" x2="231.82" y2="820" stroke-width="2.5"/>
<line x1="239.74" y1="787.6" x2="239.74" y2="820" stroke-width="2.5"/>
<line x1="247.75" y1="787.6" x2="247.75" y2="820" stroke-width="2.5"/>
<line x1="255.81" y1="787.6" x2="255.81" y2="820" stroke-width="2.5"/>
<line x1="263.88" y1="787.6" x2="263.88" y2="820" stroke-width="2.5"/>
<line x1="271.94" y1="787.6" x2="271.94" y2="820" stroke-width="2.5"/>
<line x1="279.95" y1="787.6" x2="279.95" y2="820" stroke-width="2.5"/>
<line x1="287.88" y1="787.6" x2="287.88" y2="820" stroke-width="2.5"/>
<line x1="295.7" y1="787.6" x2="295.7" y2="820" stroke-width="2.5"/>
<line x1="303.38" y1="787.6" x2="303.38" y2="820" stroke-width="2.5"/>
<line x1="310.89" y1="787.6" x2="310.89" y2="820" stroke-width="2.5"/>
<line x1="318.2" y1="787.6" x2="318.2" y2="820" stroke-width="2.5"/>
<line x1="325.28" y1="787.6" x2="325.28" y2="820" stroke-width="2.5"/>
<line x1="332.1" y1="787.6" x2="332.1" y2="820" stroke-width="2.5"/>
<line x1="338.63" y1="787.6" x2="338.63" y2="820" stroke-width="2.5"/>
<line x1="344.86" y1="787.6" x2="344.86" y2="820" stroke-width="2.5"/>
<line x1="350.75" y1="787.6" x2="350.75" y2="820" stroke-width="2.5"/>
<line x1="356.29" y1="787.6" x2="356.29" y2="820" stroke-width="2.5"/>
<line x1="361.44" y1="787.6" x2="361.44" y2="820" stroke-width="2.5"/>
<line x1="366.19" y1="787.6" x2="366.19" y2="820" stroke-width="2.5"/>
<line x1="370.53" y1="787.6" x2="370.53" y2="820" stroke-width="2.5"/>
<line x1="374.42" y1="787.6" x2="374.42" y2="820" stroke-width="2.5"/>
<line x1="377.87" y1="787.6" x2="377.87" y2="820" stroke-width="2.5"/>
<line x1="380.85" y1="787.6" x2="380.85" y2="820" stroke-width="2.5"/>
<line x1="383.35" y1="787.6" x2="383.35" y2="820" stroke-width="2.5"/>
<line x1="385.37" y1="787.6" x2="385.37" y2="820" stroke-width="2.5"/>
<rect x="129.5" y="787" width="5" height="31.5" fill="#000" stroke="none"/>
<rect x="385.5" y="787" width="5" height="31.5" fill="#000" stroke="none"/>
<path d="M131.5,819.85 L131.5,820.2 L131.5,820.51 L131.51,820.79 L131.52,821.02 L131.52,821.19 L131.54,821.32 L131.55,821.39 L131.56,821.4 L131.58,821.35 L131.6,821.25 L131.62,821.09 L131.64,820.88 L131.67,820.62 L131.69,820.32 L131.72,819.98 L131.75,819.61 L131.79,819.22 L131.82,818.81 L131.86,818.4 L131.9,817.99 L131.94,817.6 L131.98,817.24 L132.02,816.94 L132.07,816.85 L132.12,817.12 L132.17,817.46 L132.22,817.84 L132.28,818.25 L132.33,818.66 L132.39,819.07 L132.45,819.47 L132.51,819.85 L132.58,820.2 L132.64,820.51 L132.71,820.79 L132.78,821.02 L132.85,821.19 L132.93,821.32 L133,821.39 L133.08,821.4 L133.16,821.35 L133.24,821.25 L133.33,821.09 L133.41,820.88 L133.5,820.62 L133.59,820.32 L133.68,819.98 L133.78,819.61 L133.87,819.22 L133.97,818.81 L134.07,818.4 L134.17,817.99 L134.27,817.6 L134.38,817.24 L134.49,816.94 L134.59,816.85 L134.71,817.12 L134.82,817.46 L134.93,817.84 L135.05,818.25 L135.17,818.66 L135.29,819.07 L135.41,819.47 L135.54,819.85 L135.66,820.2 L135.79,820.51 L135.92,820.79 L136.05,821.02 L136.19,821.19 L136.32,821.32 L136.46,821.39 L136.6,821.4 L136.74,821.35 L136.89,821.25 L137.03,821.09 L137.18,820.88 L137.33,820.62 L137.48,820.32 L137.63,819.98 L137.79,819.61 L137.95,819.22 L138.1,818.81 L138.27,818.4 L138.43,817.99 L138.59,817.6 L138.76,817.24 L138.93,816.94 L139.1,816.85 L139.27,817.12 L139.44,817.46 L139.62,817.84 L139.8,818.25 L139.97,818.66 L140.16,819.07 L140.34,819.47 L140.52,819.85 L140.71,820.2 L140.9,820.51 L141.09,820.79 L141.28,821.02 L141.48,821.19 L141.67,821.32 L141.87,821.39 L142.07,821.4 L142.27,821.35 L142.47,821.25 L142.68,821.09 L142.88,820.88 L143.09,820.62 L143.3,820.32 L143.52,819.98 L143.73,819.61 L143.95,819.22 L144.16,818.81 L144.38,818.4 L144.6,817.99 L144.83,817.6 L145.05,817.24 L145.28,816.94 L145.51,816.85 L145.74,817.12 L145.97,817.46 L146.2,817.84 L146.44,818.25 L146.67,818.66 L146.91,819.07 L147.15,819.47 L147.39,819.85 L147.64,820.2 L147.88,820.51 L148.13,820.79 L148.38,821.02 L148.63,821.19 L148.88,821.32 L149.14,821.39 L149.39,821.4 L149.65,821.35 L149.91,821.25 L150.17,821.09 L150.44,820.88 L150.7,820.62 L150.97,820.32 L151.23,819.98 L151.5,819.61 L151.78,819.22 L152.05,818.81 L152.32,818.4 L152.6,817.99 L152.88,817.6 L153.16,817.24 L153.44,816.94 L153.72,816.85 L154,817.12 L154.29,817.46 L154.58,817.84 L154.87,818.25 L155.16,818.66 L155.45,819.07 L155.75,819.47 L156.04,819.85 L156.34,820.2 L156.64,820.51 L156.94,820.79 L157.24,821.02 L157.54,821.19 L157.85,821.32 L158.16,821.39 L158.47,821.4 L158.78,821.35 L159.09,821.25 L159.4,821.09 L159.71,820.88 L160.03,820.62 L160.35,820.32 L160.67,819.98 L160.99,819.61 L161.31,819.22 L161.64,818.81 L161.96,818.4 L162.29,817.99 L162.62,817.6 L162.95,817.24 L163.28,816.94 L163.61,816.85 L163.95,817.12 L164.28,817.46 L164.62,817.84 L164.96,818.25 L165.3,818.66 L165.64,819.07 L165.98,819.47 L166.33,819.85 L166.67,820.2 L167.02,820.51 L167.37,820.79 L167.72,821.02 L168.07,821.19 L168.43,821.32 L168.78,821.39 L169.14,821.4 L169.49,821.35 L169.85,821.25 L170.21,821.09 L170.58,820.88 L170.94,820.62 L171.3,820.32 L171.67,819.98 L172.04,819.61 L172.4,819.22 L172.77,818.81 L173.15,818.4 L173.52,817.99 L173.89,817.6 L174.27,817.24 L174.64,816.94 L175.02,816.85 L175.4,817.12 L175.78,817.46 L176.16,817.84 L176.55,818.25 L176.93,818.66 L177.32,819.07 L177.7,819.47 L178.09,819.85 L178.48,820.2 L178.87,820.51 L179.26,820.79 L179.66,821.02 L180.05,821.19 L180.45,821.32 L180.84,821.39 L181.24,821.4 L181.64,821.35 L182.04,821.25 L182.44,821.09 L182.85,820.88 L183.25,820.62 L183.66,820.32 L184.06,819.98 L184.47,819.61 L184.88,819.22 L185.29,818.81 L185.7,818.4 L186.11,817.99 L186.53,817.6 L186.94,817.24 L187.36,816.94 L187.77,816.85 L188.19,817.12 L188.61,817.46 L189.03,817.84 L189.45,818.25 L189.87,818.66 L190.3,819.07 L190.72,819.47 L191.15,819.85 L191.57,820.2 L192,820.51 L192.43,820.79 L192.86,821.02 L193.29,821.19 L193.72,821.32 L194.15,821.39 L194.59,821.4 L195.02,821.35 L195.46,821.25 L195.9,821.09 L196.33,820.88 L196.77,820.62 L197.21,820.32 L197.65,819.98 L198.09,819.61 L198.54,819.22 L198.98,818.81 L199.43,818.4 L199.87,817.99 L200.32,817.6 L200.76,817.24 L201.21,816.94 L201.66,816.85 L202.11,817.12 L202.56,817.46 L203.02,817.84 L203.47,818.25 L203.92,818.66 L204.38,819.07 L204.83,819.47 L205.29,819.85 L205.74,820.2 L206.2,820.51 L206.66,820.79 L207.12,821.02 L207.58,821.19 L208.04,821.32 L208.5,821.39 L208.97,821.4 L209.43,821.35 L209.89,821.25 L210.36,821.09 L210.83,820.88 L211.29,820.62 L211.76,820.32 L212.23,819.98 L212.7,819.61 L213.17,819.22 L213.64,818.81 L214.11,818.4 L214.58,817.99 L215.05,817.6 L215.52,817.24 L216,816.94 L216.47,816.85 L216.95,817.12 L217.42,817.46 L217.9,817.84 L218.38,818.25 L218.85,818.66 L219.33,819.07 L219.81,819.47 L220.29,819.85 L220.77,820.2 L221.25,820.51 L221.73,820.79 L222.22,821.02 L222.7,821.19 L223.18,821.32 L223.67,821.39 L224.15,821.4 L224.63,821.35 L225.12,821.25 L225.61,821.09 L226.09,820.88 L226.58,820.62 L227.07,820.32 L227.55,819.98 L228.04,819.61 L228.53,819.22 L229.02,818.81 L229.51,818.4 L230,817.99 L230.49,817.6 L230.98,817.24 L231.48,816.94 L231.97,816.85 L232.46,817.12 L232.95,817.46 L233.45,817.84 L233.94,818.25 L234.44,818.66 L234.93,819.07 L235.43,819.47 L235.92,819.85 L236.42,820.2 L236.91,820.51 L237.41,820.79 L237.91,821.02 L238.4,821.19 L238.9,821.32 L239.4,821.39 L239.9,821.4 L240.4,821.35 L240.9,821.25 L241.39,821.09 L241.89,820.88 L242.39,820.62 L242.89,820.32 L243.39,819.98 L243.89,819.61 L244.4,819.22 L244.9,818.81 L245.4,818.4 L245.9,817.99 L246.4,817.6 L246.9,817.24 L247.4,816.94 L247.91,816.85 L248.41,817.12 L248.91,817.46 L249.42,817.84 L249.92,818.25 L250.42,818.66 L250.92,819.07 L251.43,819.47 L251.93,819.85 L252.44,820.2 L252.94,820.51 L253.44,820.79 L253.95,821.02 L254.45,821.19 L254.96,821.32 L255.46,821.39 L255.96,821.4 L256.47,821.35 L256.97,821.25 L257.48,821.09 L257.98,820.88 L258.49,820.62 L258.99,820.32 L259.5,819.98 L260,819.61 L260.5,819.22 L261.01,818.81 L261.51,818.4 L262.02,817.99 L262.52,817.6 L263.03,817.24 L263.53,816.94 L264.04,816.85 L264.54,817.12 L265.04,817.46 L265.55,817.84 L266.05,818.25 L266.56,818.66 L267.06,819.07 L267.56,819.47 L268.07,819.85 L268.57,820.2 L269.08,820.51 L269.58,820.79 L270.08,821.02 L270.58,821.19 L271.09,821.32 L271.59,821.39 L272.09,821.4 L272.6,821.35 L273.1,821.25 L273.6,821.09 L274.1,820.88 L274.6,820.62 L275.1,820.32 L275.6,819.98 L276.11,819.61 L276.61,819.22 L277.11,818.81 L277.61,818.4 L278.11,817.99 L278.61,817.6 L279.1,817.24 L279.6,816.94 L280.1,816.85 L280.6,817.12 L281.1,817.46 L281.6,817.84 L282.09,818.25 L282.59,818.66 L283.09,819.07 L283.58,819.47 L284.08,819.85 L284.57,820.2 L285.07,820.51 L285.56,820.79 L286.06,821.02 L286.55,821.19 L287.05,821.32 L287.54,821.39 L288.03,821.4 L288.52,821.35 L289.02,821.25 L289.51,821.09 L290,820.88 L290.49,820.62 L290.98,820.32 L291.47,819.98 L291.96,819.61 L292.45,819.22 L292.93,818.81 L293.42,818.4 L293.91,817.99 L294.39,817.6 L294.88,817.24 L295.37,816.94 L295.85,816.85 L296.33,817.12 L296.82,817.46 L297.3,817.84 L297.78,818.25 L298.27,818.66 L298.75,819.07 L299.23,819.47 L299.71,819.85 L300.19,820.2 L300.67,820.51 L301.15,820.79 L301.62,821.02 L302.1,821.19 L302.58,821.32 L303.05,821.39 L303.53,821.4 L304,821.35 L304.48,821.25 L304.95,821.09 L305.42,820.88 L305.89,820.62 L306.36,820.32 L306.83,819.98 L307.3,819.61 L307.77,819.22 L308.24,818.81 L308.71,818.4 L309.17,817.99 L309.64,817.6 L310.11,817.24 L310.57,816.94 L311.03,816.85 L311.5,817.12 L311.96,817.46 L312.42,817.84 L312.88,818.25 L313.34,818.66 L313.8,819.07 L314.26,819.47 L314.71,819.85 L315.17,820.2 L315.62,820.51 L316.08,820.79 L316.53,821.02 L316.98,821.19 L317.44,821.32 L317.89,821.39 L318.34,821.4 L318.79,821.35 L319.24,821.25 L319.68,821.09 L320.13,820.88 L320.57,820.62 L321.02,820.32 L321.46,819.98 L321.91,819.61 L322.35,819.22 L322.79,818.81 L323.23,818.4 L323.67,817.99 L324.1,817.6 L324.54,817.24 L324.98,816.94 L325.41,816.85 L325.85,817.12 L326.28,817.46 L326.71,817.84 L327.14,818.25 L327.57,818.66 L328,819.07 L328.43,819.47 L328.85,819.85 L329.28,820.2 L329.7,820.51 L330.13,820.79 L330.55,821.02 L330.97,821.19 L331.39,821.32 L331.81,821.39 L332.23,821.4 L332.64,821.35 L333.06,821.25 L333.47,821.09 L333.89,820.88 L334.3,820.62 L334.71,820.32 L335.12,819.98 L335.53,819.61 L335.94,819.22 L336.34,818.81 L336.75,818.4 L337.15,817.99 L337.56,817.6 L337.96,817.24 L338.36,816.94 L338.76,816.85 L339.16,817.12 L339.55,817.46 L339.95,817.84 L340.34,818.25 L340.74,818.66 L341.13,819.07 L341.52,819.47 L341.91,819.85 L342.3,820.2 L342.68,820.51 L343.07,820.79 L343.45,821.02 L343.84,821.19 L344.22,821.32 L344.6,821.39 L344.98,821.4 L345.36,821.35 L345.73,821.25 L346.11,821.09 L346.48,820.88 L346.85,820.62 L347.23,820.32 L347.6,819.98 L347.96,819.61 L348.33,819.22 L348.7,818.81 L349.06,818.4 L349.42,817.99 L349.79,817.6 L350.15,817.24 L350.51,816.94 L350.86,816.85 L351.22,817.12 L351.57,817.46 L351.93,817.84 L352.28,818.25 L352.63,818.66 L352.98,819.07 L353.33,819.47 L353.67,819.85 L354.02,820.2 L354.36,820.51 L354.7,820.79 L355.04,821.02 L355.38,821.19 L355.72,821.32 L356.05,821.39 L356.39,821.4 L356.72,821.35 L357.05,821.25 L357.38,821.09 L357.71,820.88 L358.04,820.62 L358.36,820.32 L358.69,819.98 L359.01,819.61 L359.33,819.22 L359.65,818.81 L359.97,818.4 L360.29,817.99 L360.6,817.6 L360.91,817.24 L361.22,816.94 L361.53,816.85 L361.84,817.12 L362.15,817.46 L362.46,817.84 L362.76,818.25 L363.06,818.66 L363.36,819.07 L363.66,819.47 L363.96,819.85 L364.25,820.2 L364.55,820.51 L364.84,820.79 L365.13,821.02 L365.42,821.19 L365.71,821.32 L366,821.39 L366.28,821.4 L366.56,821.35 L366.84,821.25 L367.12,821.09 L367.4,820.88 L367.68,820.62 L367.95,820.32 L368.22,819.98 L368.5,819.61 L368.77,819.22 L369.03,818.81 L369.3,818.4 L369.56,817.99 L369.83,817.6 L370.09,817.24 L370.35,816.94 L370.61,816.85 L370.86,817.12 L371.12,817.46 L371.37,817.84 L371.62,818.25 L371.87,818.66 L372.12,819.07 L372.36,819.47 L372.61,819.85 L372.85,820.2 L373.09,820.51 L373.33,820.79 L373.56,821.02 L373.8,821.19 L374.03,821.32 L374.26,821.39 L374.49,821.4 L374.72,821.35 L374.95,821.25 L375.17,821.09 L375.4,820.88 L375.62,820.62 L375.84,820.32 L376.05,819.98 L376.27,819.61 L376.48,819.22 L376.7,818.81 L376.91,818.4 L377.12,817.99 L377.32,817.6 L377.53,817.24 L377.73,816.94 L377.93,816.85 L378.13,817.12 L378.33,817.46 L378.52,817.84 L378.72,818.25 L378.91,818.66 L379.1,819.07 L379.29,819.47 L379.48,819.85 L379.66,820.2 L379.84,820.51 L380.03,820.79 L380.2,821.02 L380.38,821.19 L380.56,821.32 L380.73,821.39 L380.9,821.4 L381.07,821.35 L381.24,821.25 L381.41,821.09 L381.57,820.88 L381.73,820.62 L381.9,820.32 L382.05,819.98 L382.21,819.61 L382.37,819.22 L382.52,818.81 L382.67,818.4 L382.82,817.99 L382.97,817.6 L383.11,817.24 L383.26,816.94 L383.4,816.85 L383.54,817.12 L383.68,817.46 L383.81,817.84 L383.95,818.25 L384.08,818.66 L384.21,819.07 L384.34,819.47 L384.46,819.85 L384.59,820.2 L384.71,820.51 L384.83,820.79 L384.95,821.02 L385.07,821.19 L385.18,821.32 L385.29,821.39 L385.41,821.4 L385.51,821.35 L385.62,821.25 L385.73,821.09 L385.83,820.88 L385.93,820.62 L386.03,820.32 L386.13,819.98 L386.22,819.61 L386.32,819.22 L386.41,818.81 L386.5,818.4 L386.59,817.99 L386.67,817.6 L386.76,817.24 L386.84,816.94 L386.92,816.85 L387,817.12 L387.07,817.46 L387.15,817.84 L387.22,818.25 L387.29,818.66 L387.36,819.07 L387.42,819.47 L387.49,819.85 L387.55,820.2 L387.61,820.51 L387.67,820.79 L387.72,821.02 L387.78,821.19 L387.83,821.32 L387.88,821.39 L387.93,821.4 L387.98,821.35 L388.02,821.25 L388.06,821.09 L388.1,820.88 L388.14,820.62 L388.18,820.32 L388.21,819.98 L388.25,819.61 L388.28,819.22 L388.31,818.81 L388.33,818.4 L388.36,817.99 L388.38,817.6 L388.4,817.24 L388.42,816.94 L388.44,816.85 L388.45,817.12 L388.46,817.46 L388.48,817.84 L388.48,818.25 L388.49,818.66 L388.5,819.07 L388.5,819.47 L388.5,819.85" stroke-width="2.6" stroke-linejoin="round"/>
<path d="M166,827.4 C178,828.5 185,833 190,839.7" stroke-width="2.6" />
<path d="M355.8,827.4 C342,828.5 335,833 330,839.7" stroke-width="2.6" />
<line x1="190" y1="839.7" x2="330" y2="839.7" stroke-width="2.4" />
<path d="M190,844.3 L185,844.3 Q182.3,844.3 182.3,847.5 L182.3,921.5 Q182.3,925.1 186,925.1 L334,925.1 Q337.7,925.1 337.7,921.5 L337.7,847.5 Q337.7,844.3 335,844.3 L330,844.3 Z" stroke-width="2.6" />
<line x1="190.4" y1="839.7" x2="190.4" y2="925.7" stroke-width="1.5" />
<line x1="329.6" y1="839.7" x2="329.6" y2="925.7" stroke-width="1.5" />
<path d="M182.3,925.1 L190.7,930.3 L329.3,930.3 L337.7,925.1" stroke-width="2.4" />
<path d="M190.7,930.3 L190.7,942.8 L329.3,942.8 L329.3,930.3" stroke-width="2.4" />
<path d="M193.3,942.8 L193.3,952.5 Q193.3,955 196.5,955 L323.5,955 Q326.7,955 326.7,952.5 L326.7,942.8" stroke-width="3.4" />
<line x1="300" y1="775.5" x2="436.2" y2="775.5" stroke-width="1.2" />
<path d="M286.9,775.5 L302.9,772.7 L302.9,778.3 Z" fill="#000" stroke="none"/>
<text transform="translate(450.09,792.8) scale(0.5583,1)" font-size="47.82"  >SW</text>
<text transform="translate(503.49,792.8) scale(0.6338,1)" font-size="47.82"  >18mm</text>
<line x1="182.7" y1="927" x2="182.7" y2="994" stroke-width="1.1" />
<line x1="337.3" y1="927" x2="337.3" y2="994" stroke-width="1.1" />
<line x1="182.7" y1="988" x2="562" y2="988" stroke-width="1.1" />
<path d="M182.7,988 L198.7,985.2 L198.7,990.8 Z" fill="#000" stroke="none"/>
<path d="M337.3,988 L321.3,990.8 L321.3,985.2 Z" fill="#000" stroke="none"/>
<text transform="translate(418.98,968.6) scale(0.6365,1)" font-size="63.52"  >M12</text>
<text transform="translate(511.88,968.6) scale(0.5829,1)" font-size="63.52"  >x</text>
<text transform="translate(546.8,968.6) scale(0.3725,1)" font-size="63.52"  >1</text>
<line x1="129.7" y1="820" x2="129.7" y2="1082" stroke-width="1.1" />
<line x1="390.2" y1="820" x2="390.2" y2="1082" stroke-width="1.1" />
<line x1="129.7" y1="1074.9" x2="390.2" y2="1074.9" stroke-width="1.1" />
<path d="M129.7,1074.9 L145.7,1072.1 L145.7,1077.7 Z" fill="#000" stroke="none"/>
<path d="M390.2,1074.9 L374.2,1077.7 L374.2,1072.1 Z" fill="#000" stroke="none"/>
<text transform="translate(199.5,1054.9) scale(0.4914,1)" font-size="64.83"  >Ø</text>
<text transform="translate(238.63,1054.9) scale(0.6644,1)" font-size="64.83"  >20,2</text>
</g>
</svg>
</body></html>
